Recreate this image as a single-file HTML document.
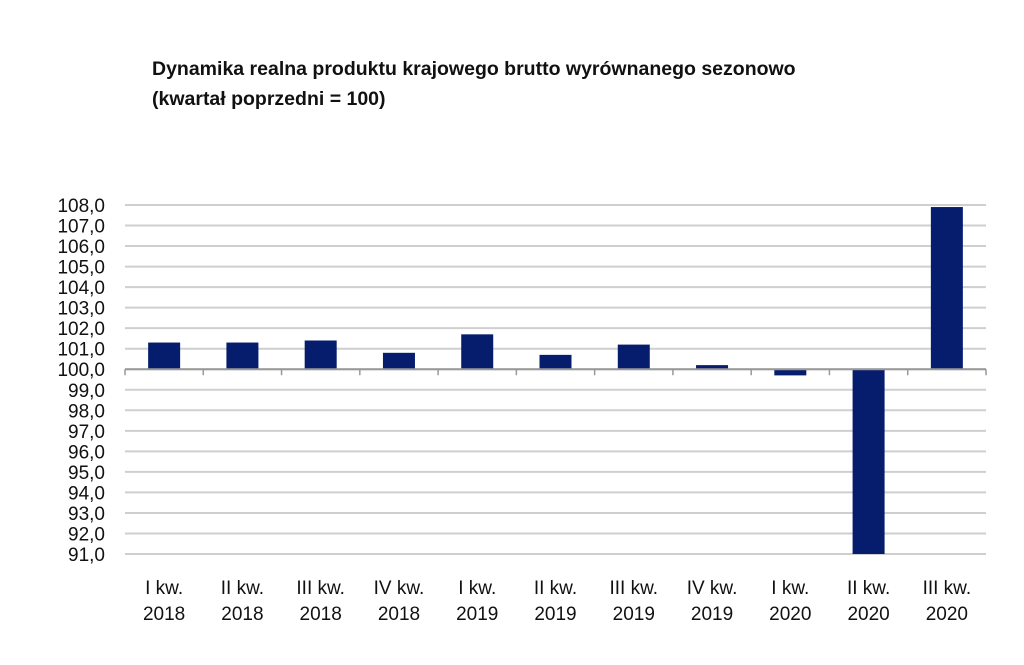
<!DOCTYPE html>
<html><head><meta charset="utf-8"><style>
body{margin:0;background:#fff;font-family:"Liberation Sans",sans-serif;}
svg text{font-family:"Liberation Sans",sans-serif;}
</style></head><body>
<svg width="1024" height="660" viewBox="0 0 1024 660">
<text x="152" y="75" font-size="19.5" font-weight="bold" fill="#111">Dynamika realna produktu krajowego brutto wyrównanego sezonowo</text>
<text x="152" y="105" font-size="19.5" font-weight="bold" fill="#111">(kwartał poprzedni = 100)</text>
<g id="grid"></g><g id="bars"></g><g id="axis"></g>
</svg>
<script>
const categories=["I kw.|2018","II kw.|2018","III kw.|2018","IV kw.|2018","I kw.|2019","II kw.|2019","III kw.|2019","IV kw.|2019","I kw.|2020","II kw.|2020","III kw.|2020"];
const values=[101.3,101.3,101.4,100.8,101.7,100.7,101.2,100.2,99.7,91.0,107.9];
const ticks=[91,92,93,94,95,96,97,98,99,100,101,102,103,104,105,106,107,108];
const NS="http://www.w3.org/2000/svg";
const L=125,R=986,yMin=91,yMax=108,yTop=205,yBot=554;
const y=v=>yBot-(v-yMin)/(yMax-yMin)*(yBot-yTop);
const bw=(R-L)/categories.length;
const x=i=>L+bw*i+bw/2;
function mk(t,a,p){const e=document.createElementNS(NS,t);for(const k in a)e.setAttribute(k,a[k]);p.appendChild(e);return e;}
const grid=document.getElementById('grid'),bars=document.getElementById('bars'),axis=document.getElementById('axis');
ticks.forEach(t=>{
 const l=mk('line',{x1:L,x2:R,y1:y(t),y2:y(t),stroke:'#cfcfcf','stroke-width':2},grid);
 
 
 const tx=mk('text',{x:105,y:y(t)+7,'font-size':19,'text-anchor':'end',fill:'#111'},grid);
 tx.textContent=t.toFixed(1).replace('.',',');
 
 
});
values.forEach((v,i)=>{
 const y0=y(100),y1=y(v);
 const r=mk('rect',{x:x(i)-16,y:Math.min(y0,y1),width:32,height:Math.abs(y1-y0),fill:'#061d6e'},bars);
 
 
});
const ax=mk('line',{x1:L,x2:R,y1:y(100),y2:y(100),stroke:'#999','stroke-width':2},axis);


for(let i=0;i<=categories.length;i++){
 const tk=mk('line',{x1:L+bw*i,x2:L+bw*i,y1:y(100),y2:y(100)+6,stroke:'#999','stroke-width':1.5},axis);
 
 
}
categories.forEach((c,i)=>{
 const [a,b]=c.split('|');
 const t1=mk('text',{x:x(i),y:594,'font-size':19,'text-anchor':'middle',fill:'#111'},axis);
 t1.textContent=a;
 
 
 const t2=mk('text',{x:x(i),y:620,'font-size':19,'text-anchor':'middle',fill:'#111'},axis);
 t2.textContent=b;
 
 
});
</script>
</body></html>
